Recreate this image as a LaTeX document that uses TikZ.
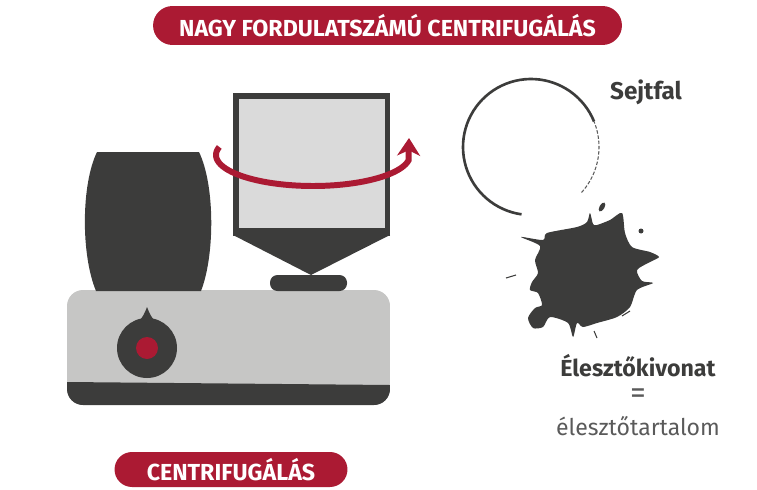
\documentclass[tikz,border=0pt]{standalone}
\usepackage{fontspec}
\setmainfont{Fira Sans}
\usetikzlibrary{arrows.meta,decorations.pathmorphing}

\definecolor{crimson}{HTML}{AB1A33}
\definecolor{charcoal}{HTML}{3C3C3B}
\definecolor{silver}{HTML}{C6C6C5}
\definecolor{pale}{HTML}{DADADA}
\definecolor{slate}{HTML}{5A5A5A}

\tikzstyle{banner}=[fill=crimson,text=white,font=\bfseries\fontsize{13.2}{15}\selectfont,inner sep=0pt]
\tikzstyle{darktext}=[text=charcoal,font=\bfseries\fontsize{13.2}{15}\selectfont]
\tikzstyle{lighttext}=[text=slate,font=\fontsize{13.1}{15}\selectfont]
\tikzstyle{rotarrow}=[draw=crimson,line width=3.4pt,-{Stealth[length=10pt,width=13pt,inset=3pt]}]
\newcommand{\pxscale}{0.02}

\begin{document}
\begin{tikzpicture}[x=\pxscale cm, y=-\pxscale cm]
    \useasboundingbox (0,0) rectangle (757,490);
    % First we draw the machine base
    \begin{scope}
        \clip[rounded corners=0.32cm] (67,290) rectangle (390,405);
        \fill[silver] (67,290) rectangle (390,405);
        \fill[charcoal] (67,382) -- (390,385) -- (390,405) -- (67,405) -- cycle;
    \end{scope}
    % Tube holder on the left
    \fill[charcoal] (97,152) -- (199,152) .. controls (215,185) and (215,255) .. (201,291)
        -- (96,291) .. controls (81,255) and (81,185) .. (97,152) -- cycle;
    % Knob
    \fill[charcoal] (147,348) circle[radius=30];
    \fill[charcoal] (137,323) .. controls (143,318) and (145,312) .. (147,307)
        .. controls (149,312) and (151,318) .. (157,323) -- cycle;
    \fill[crimson] (147,348) circle[radius=11];
    % Rotor with funnel and plate
    \fill[charcoal] (233,93) rectangle (390,236);
    \fill[charcoal] (233,235) -- (390,235) -- (311,275) -- cycle;
    \fill[pale] (239,99) rectangle (385,228);
    \fill[charcoal, rounded corners=0.15cm] (270,275) rectangle (347,291);
    % Rotation arrow
    \draw[rotarrow] plot[domain=165:350,samples=70] ({313+97*cos(\x)},{155-31*sin(\x)})
        -- (409,138);

    % Cell wall
    \draw[charcoal, line width=1.5pt, decorate,
          decoration={random steps,segment length=3pt,amplitude=0.4pt}]
        plot[domain=22:262,samples=60] ({531+68*cos(\x)},{147-68*sin(\x)});
    \draw[slate, line width=0.6pt, dash pattern=on 2pt off 1pt]
        plot[domain=-42:22,samples=30] ({531+68*cos(\x)},{147-68*sin(\x)});
    % Splat of the broken cell
    \fill[charcoal] plot[smooth cycle, tension=0.45] coordinates {
        (547,233) (577,227) (587,222) (590,213) (593,224) (597,225) (610,220)
        (622,213) (625,233) (632,247) (650,252) (659,257) (650,262) (637,270)
        (642,281) (653,283) (637,290) (630,307) (617,317) (597,323) (583,327)
        (577,323) (573,337) (568,323) (550,317) (543,327) (533,328) (528,318)
        (535,308) (542,305) (538,293) (530,290) (532,282) (538,273) (535,260)
        (540,246) (521,237) (543,240)};
    \fill[charcoal, rotate around={-30:(602,207)}] (602,207) ellipse[x radius=2.5, y radius=5];
    \fill[charcoal] (641,231) circle[radius=2.5];
    \draw[charcoal, line width=0.6pt] (506,278) -- (516,275);
    \draw[charcoal, line width=0.6pt] (622,316) -- (630,311);
    \draw[charcoal, line width=0.6pt] (594,331) -- (597,338);

    % Labels
    \node[banner, minimum width=9.38cm, minimum height=0.78cm, rounded corners=0.39cm]
        (title) at (387.5,25.5) {NAGY FORDULATSZÁMÚ CENTRIFUGÁLÁS};
    \node[banner, minimum width=4.66cm, minimum height=0.70cm, rounded corners=0.35cm]
        (spin) at (231,469.5) {CENTRIFUGÁLÁS};
    \node[darktext, font=\bfseries\fontsize{13.8}{15}\selectfont] (wall) at (646,92) {Sejtfal};
    \node[darktext] (extract) at (638,366) {Élesztőkivonat};
    \node[lighttext, font=\fontsize{18}{18}\selectfont] (equals) at (638,396) {=};
    \node[lighttext] (content) at (638,426) {élesztőtartalom};
\end{tikzpicture}
\end{document}
